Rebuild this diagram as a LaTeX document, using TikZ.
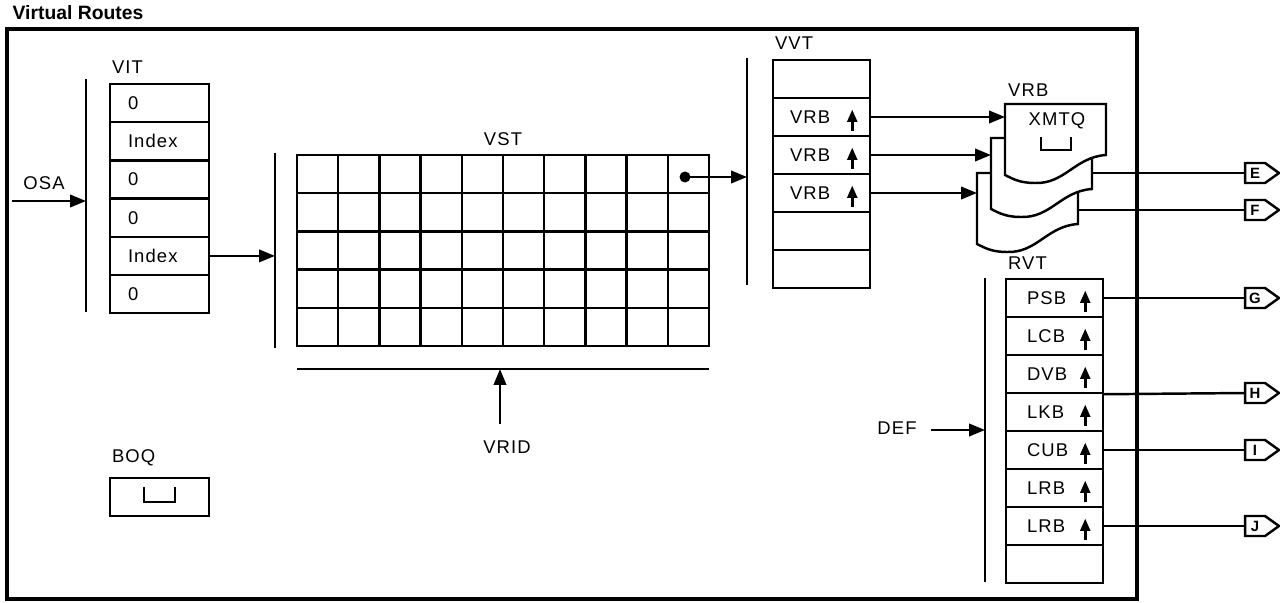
\documentclass[tikz,border=0pt]{standalone}
\usepackage{fontspec}
\setmainfont{Liberation Sans}[LetterSpace=6]
\newfontfamily\headfont{Liberation Sans}
\usetikzlibrary{arrows.meta, calc}

\begin{document}
\begin{tikzpicture}[
            x=0.02cm, y=-0.02cm, line width=1.4pt,
            >={Triangle[length=9pt, width=7pt]},
            frame/.style={draw, line width=1.9pt, minimum width=22.6cm, minimum height=11.4cm, inner sep=0pt},
            heading/.style={anchor=south west, inner sep=0pt, font=\headfont\bfseries\fontsize{11}{13}\selectfont},
            caption/.style={inner sep=0pt, font=\fontsize{10.5}{12}\selectfont},
            tablename/.style={caption, anchor=south west},
            bar/.style={line width=1.6pt},
            vitcell/.style={draw, caption, minimum height=0.764cm, inner ysep=0pt, inner xsep=0.36cm, text width=1.26cm, align=left},
            vvtcell/.style={draw, caption, minimum height=0.76cm, inner ysep=0pt, inner xsep=0.34cm, text width=1.26cm, align=left},
            rvtcell/.style={draw, caption, minimum height=0.76cm, inner ysep=0pt, inner xsep=0.42cm, text width=1.1cm, align=left},
            uparrow/.style={-{Triangle[length=7pt, width=5.5pt]}, line width=1.6pt},
            docshape/.style={draw, fill=white},
            tag/.style={minimum width=0.4cm, minimum height=0.4cm, inner sep=0pt, outer sep=0pt, font=\headfont\bfseries\fontsize{8.5}{9}\selectfont}
        ]
        \useasboundingbox (0,0) rectangle (1280,602);

        % ==========================================
        % FRAME
        % ==========================================
        \node[frame] (routes) at (572,314) {};
        \node[heading] (routestitle) at ([xshift=0.12cm, yshift=0.13cm]routes.north west) {Virtual Routes};

        % ==========================================
        % VIT
        % ==========================================
        \foreach \t [count=\i] in {0,Index,0,0,Index,0}
            \node[vitcell] (vit\i) at ({159.5}, {64.9+38.2*\i}) {\t};
        \node[tablename] (vitname) at ([xshift=0.04cm, yshift=0.16cm]vit1.north west) {VIT};

        \draw[bar] (86,79) coordinate (vitbar) -- (86,312);
        \node[caption] (osa) at (44,183) {OSA};
        \coordinate (osain) at (12,201);
        \draw[->] (osain) -- (osain -| vitbar);

        % ==========================================
        % VST
        % ==========================================
        \draw[bar] (275,153) coordinate (vstbar) -- (275,348);
        \draw[->] (vit5.east) -- (vit5.east -| vstbar);

        \node[draw, minimum width=8.24cm, minimum height=3.82cm, inner sep=0pt, outer sep=0pt] (vst) at (503,250.5) {};
        \foreach \i in {1,...,9}
            \draw ($(vst.north west)!\i/10!(vst.north east)$) -- ($(vst.south west)!\i/10!(vst.south east)$);
        \foreach \j in {1,...,4}
            \draw ($(vst.north west)!\j/5!(vst.south west)$) -- ($(vst.north east)!\j/5!(vst.south east)$);
        \node[caption, anchor=south] (vstname) at ([yshift=0.16cm]vst.north) {VST};

        \draw ([yshift=-0.46cm]vst.south west) coordinate (vridline) -- ([yshift=-0.46cm]vst.south east);
        \node[caption] (vrid) at (507,447) {VRID};
        \coordinate (vridtip) at (500,424);
        \draw[->] (vridtip) -- (vridtip |- vridline);

        % ==========================================
        % VVT
        % ==========================================
        \draw[bar] (747,58) coordinate (vvtbar) -- (747,285);
        \fill (685,177) coordinate (vstptr) circle (0.11cm);
        \draw[->] (vstptr) -- (vstptr -| vvtbar);

        \foreach \t [count=\i] in {{},VRB,VRB,VRB,{},{}}
            \node[vvtcell] (vvt\i) at ({821.5}, {41+38*\i}) {\t};
        \foreach \i in {2,3,4}
            \draw[uparrow] ([xshift=-0.38cm, yshift=-0.27cm]vvt\i.east) -- ([xshift=-0.38cm, yshift=0.15cm]vvt\i.east);
        \node[tablename] (vvtname) at ([xshift=0.04cm, yshift=0.16cm]vvt1.north west) {VVT};

        % ==========================================
        % VRB (stacked)
        % ==========================================
        \foreach \n/\x/\y in {3/977/173, 2/991/138, 1/1005/104}
            \draw[docshape, shift={(\x,\y)}] (0,0) coordinate (vrb\n) -- (101,0) -- (101,51) coordinate (vrbr\n)
                .. controls (70,53) and (60,80) .. (30,79) .. controls (15,79) and (8,75) .. (0,71) -- cycle;
        \node[tablename] (vrbname) at ([xshift=0.04cm, yshift=0.12cm]vrb1) {VRB};
        \node[caption] (xmtq) at (1057,121) {XMTQ};
        \draw (1041,137) |- (1071,150) -- (1071,137);

        \draw[->] (vvt2.east) -- (vvt2.east -| vrb1);
        \draw[->] (vvt3.east) -- (vvt3.east -| vrb2);
        \draw[->] (vvt4.east) -- (vvt4.east -| vrb3);

        % ==========================================
        % RVT
        % ==========================================
        \draw[bar] (985,278) coordinate (rvtbar) -- (985,582);
        \foreach \t [count=\i] in {PSB,LCB,DVB,LKB,CUB,LRB,LRB,{}}
            \node[rvtcell] (rvt\i) at ({1054.5}, {260+38*\i}) {\t};
        \foreach \i in {1,...,7}
            \draw[uparrow] ([xshift=-0.38cm, yshift=-0.27cm]rvt\i.east) -- ([xshift=-0.38cm, yshift=0.15cm]rvt\i.east);
        \node[tablename] (rvtname) at ([xshift=0.04cm, yshift=0.14cm]rvt1.north west) {RVT};

        \node[caption] (def) at (897,428) {DEF};
        \coordinate (defin) at (931,430);
        \draw[->] (defin) -- (defin -| rvtbar);

        % ==========================================
        % EXITS
        % ==========================================
        \foreach \l/\y in {E/173, F/210, G/298, H/393, I/450, J/526} {
            \node[tag] (tag\l) at (1255,\y) {\l};
            \draw (tag\l.north west) -- (tag\l.north east) -- ([xshift=0.28cm]tag\l.east) -- (tag\l.south east) -- (tag\l.south west) -- cycle;
        }
        \draw (vrbr2 |- tagE) -- (tagE.west);
        \draw (vrbr3 |- tagF) -- (tagF.west);
        \draw (rvt1.east) -- (tagG.west);
        \draw (rvt3.south east) -- (tagH.west);
        \draw (rvt5.east) -- (tagI.west);
        \draw (rvt7.east) -- (tagJ.west);

        % ==========================================
        % BOQ
        % ==========================================
        \node[draw, minimum width=1.98cm, minimum height=0.76cm] (boq) at (159.5,497) {};
        \node[tablename] (boqname) at ([xshift=0.04cm, yshift=0.2cm]boq.north west) {BOQ};
        \draw ([xshift=-0.31cm, yshift=0.2cm]boq.center) |- ([xshift=0.31cm, yshift=-0.1cm]boq.center) -- ([xshift=0.31cm, yshift=0.2cm]boq.center);

        \end{tikzpicture}
\end{document}
